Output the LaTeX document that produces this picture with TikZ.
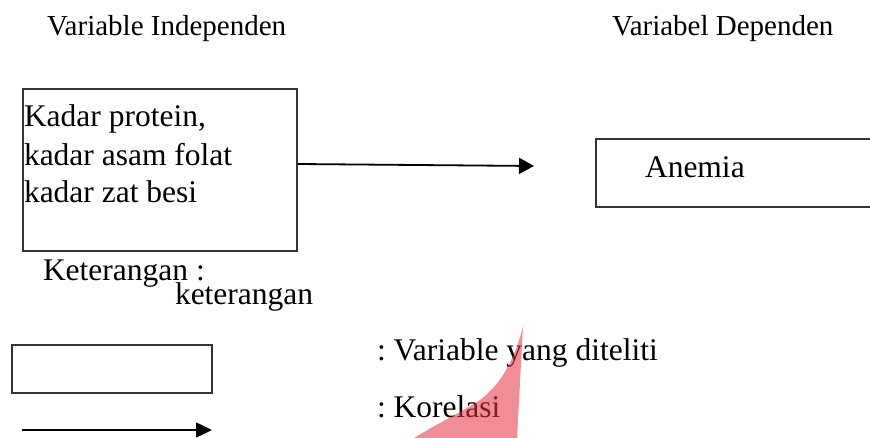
\documentclass[tikz,border=0pt]{standalone}
\usepackage{fontspec}
\setmainfont{Liberation Serif}
\usetikzlibrary{arrows.meta}
\frenchspacing
\begin{document}
\begin{tikzpicture}[x=1pt,y=-1pt,
  boxline/.style={draw=black!80,line width=1.3pt},
  txt/.style={anchor=base west,inner sep=0pt,outer sep=0pt},
  arr/.style={line width=1.8pt,-{Triangle[length=15pt,width=16pt]}},
  hfont/.style={font=\fontsize{29}{34}\selectfont},
  bfont/.style={font=\fontsize{31.5}{38}\selectfont}]
\clip (0,0) rectangle (870,438);
\fill[white] (0,0) rectangle (870,438);
% headers
\node[txt,hfont] (hdrI) at (47,36) {Variable Independen};
\node[txt,hfont] (hdrD) at (612,36) {Variabel Dependen};
% left box
\node[boxline,minimum width=274pt,minimum height=162pt,inner sep=0pt] (indep) at (160,170) {};
\node[txt,bfont] (t1) at (24,127) {Kadar protein,};
\node[txt,bfont] (t2) at (24,166) {kadar asam folat};
\node[txt,bfont] (t3) at (24,203) {kadar zat besi};
% right box (runs past the right edge)
\node[boxline,minimum width=320pt,minimum height=68pt,inner sep=0pt] (dep) at (756,173) {};
\node[txt,bfont] (anemia) at (645,178) {Anemia};
% main arrow
\coordinate (aend) at (534,166);
\draw[arr] (indep.east |- 0,164) -- (aend);
% keterangan
\node[txt,bfont] (ket) at (43,281) {Keterangan :};
\node[txt,bfont] (ket2) at (175,305) {keterangan};
% legend
\node[boxline,minimum width=200pt,minimum height=48pt,inner sep=0pt] (legbox) at (112,369) {};
\coordinate (lstart) at (22,430);
\coordinate (lend) at (212,430);
\draw[arr,line width=1.6pt,-{Triangle[length=16pt,width=15pt]}] (lstart) -- (lend);
\node[txt,bfont] (lt1) at (377,360) {: Variable yang diteliti};
\node[txt,bfont] (lt2) at (377,417) {: Korelasi};
% watermark fragment
\fill[fill={rgb,255:red,230;green,50;blue,62},fill opacity=0.55]
  (523,326) -- (517,438) -- (414,438)
  .. controls (440,422) and (462,412) .. (480,400)
  .. controls (500,385) and (515,360) .. (523,326) -- cycle;
\end{tikzpicture}
\end{document}
